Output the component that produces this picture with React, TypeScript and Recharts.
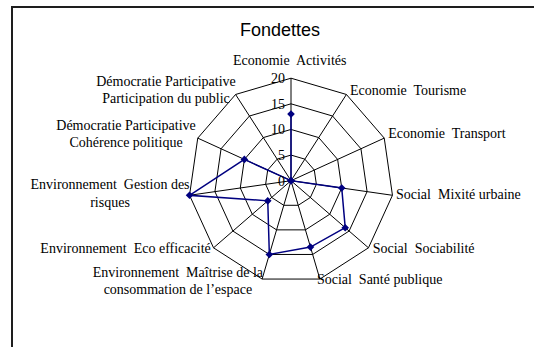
import React from "react";
import { RadarChart, Radar, PolarGrid, PolarAngleAxis, PolarRadiusAxis } from "recharts";

// Axes of the spider chart, clockwise from the top ("\n" = line break in the label)
const categories = [
  "Economie  Activités",
  "Economie  Tourisme",
  "Economie  Transport",
  "Social  Mixité urbaine",
  "Social  Sociabilité",
  "Social  Santé publique",
  "Environnement  Maîtrise de la\nconsommation de l’espace",
  "Environnement  Eco efficacité",
  "Environnement  Gestion des\nrisques",
  "Démocratie Participative\nCohérence politique",
  "Démocratie Participative\nParticipation du public",
];

const scores = [13, 0, 0, 10, 14, 13.5, 15, 6, 20, 10, 0];

const radiusTicks = [0, 5, 10, 15, 20];

const data = categories.map((name, i) => ({ name, value: scores[i] }));

// chart geometry
const CX = 291;
const CY = 180.7;
const R = 102.5;
const RAD = Math.PI / 180;
const SERIF = "'Liberation Serif', 'Times New Roman', serif";
const LINE_H = 17.4;

// where each axis label sits relative to its outer vertex
const labelPlacement: { anchor: "start" | "middle" | "end"; dx: number; dy: number }[] = [
  { anchor: "middle", dx: -1.3, dy: -13.3 },
  { anchor: "start", dx: 3.6, dy: 0.5 },
  { anchor: "start", dx: 4, dy: 0 },
  { anchor: "start", dx: 3.5, dy: 3.7 },
  { anchor: "start", dx: 4.2, dy: 4.9 },
  { anchor: "start", dx: -3, dy: 5 },
  { anchor: "middle", dx: -84.2, dy: -2.3 },
  { anchor: "end", dx: -2.8, dy: 4.9 },
  { anchor: "middle", dx: -79.5, dy: -6 },
  { anchor: "middle", dx: -71.7, dy: -8.2 },
  { anchor: "middle", dx: -69.6, dy: -8.5 },
];

function AngleTick(props: any) {
  const { payload, index } = props;
  const angle = payload.coordinate;
  const vx = CX + Math.cos(-angle * RAD) * R;
  const vy = CY + Math.sin(-angle * RAD) * R;
  const place = labelPlacement[index] || { anchor: "middle", dx: 0, dy: 0 };
  const lines = String(payload.value).split("\n");
  return (
    <text
      x={vx + place.dx}
      y={vy + place.dy}
      textAnchor={place.anchor}
      fontFamily={SERIF}
      fontSize={14}
      fill="#000"
      style={{ whiteSpace: "pre" }}
    >
      {lines.map((l, i) => (
        <tspan key={i} x={vx + place.dx} dy={i === 0 ? 0 : LINE_H}>
          {l}
        </tspan>
      ))}
    </text>
  );
}

function RadiusTick(props: any) {
  const { x, y, payload } = props;
  return (
    <text x={x - 6} y={y + 5} textAnchor="end" fontFamily={SERIF} fontSize={14} fill="#000">
      {payload.value}
    </text>
  );
}

function Diamond(props: any) {
  const { cx, cy } = props;
  if (cx == null || cy == null) return null;
  const s = 3.8;
  return (
    <polygon
      points={`${cx},${cy - s} ${cx + s},${cy} ${cx},${cy + s} ${cx - s},${cy}`}
      fill="#000080"
      stroke="none"
    />
  );
}

export default function App() {
  return (
    <div style={{ position: "absolute", left: 0, top: 0, width: 534, height: 347, background: "#fff", overflow: "hidden" }}>
      <div
        style={{
          position: "absolute",
          left: 11,
          top: 6,
          width: 540,
          height: 360,
          borderLeft: "2px solid #1e1e1e",
          borderTop: "2px solid #1e1e1e",
        }}
      />
      <div
        style={{
          position: "absolute",
          left: 0,
          top: 20,
          width: 560,
          textAlign: "center",
          fontFamily: "'Liberation Sans', Arial, sans-serif",
          fontSize: 18,
          lineHeight: "20px",
          color: "#000",
        }}
      >
        Fondettes
      </div>
      <div style={{ position: "absolute", left: 0, top: 0 }}>
        <RadarChart
          width={534}
          height={347}
          data={data}
          cx={CX}
          cy={CY}
          outerRadius={R}
          startAngle={90}
          endAngle={-270}
          margin={{ top: 0, right: 0, bottom: 0, left: 0 }}
        >
          <PolarGrid gridType="polygon" stroke="#000" strokeWidth={1} strokeOpacity={1} />
          <PolarAngleAxis dataKey="name" axisLine={false} tickLine={false} tick={<AngleTick />} />
          <PolarRadiusAxis
            angle={90}
            domain={[0, 20]}
            ticks={radiusTicks as any}
            tickCount={5}
            axisLine={false}
            tickLine={false}
            tick={<RadiusTick />}
          />
          <Radar
            dataKey="value"
            stroke="#000080"
            strokeWidth={1.5}
            fill="none"
            fillOpacity={0}
            dot={<Diamond />}
            isAnimationActive={false}
          />
        </RadarChart>
      </div>
    </div>
  );
}
